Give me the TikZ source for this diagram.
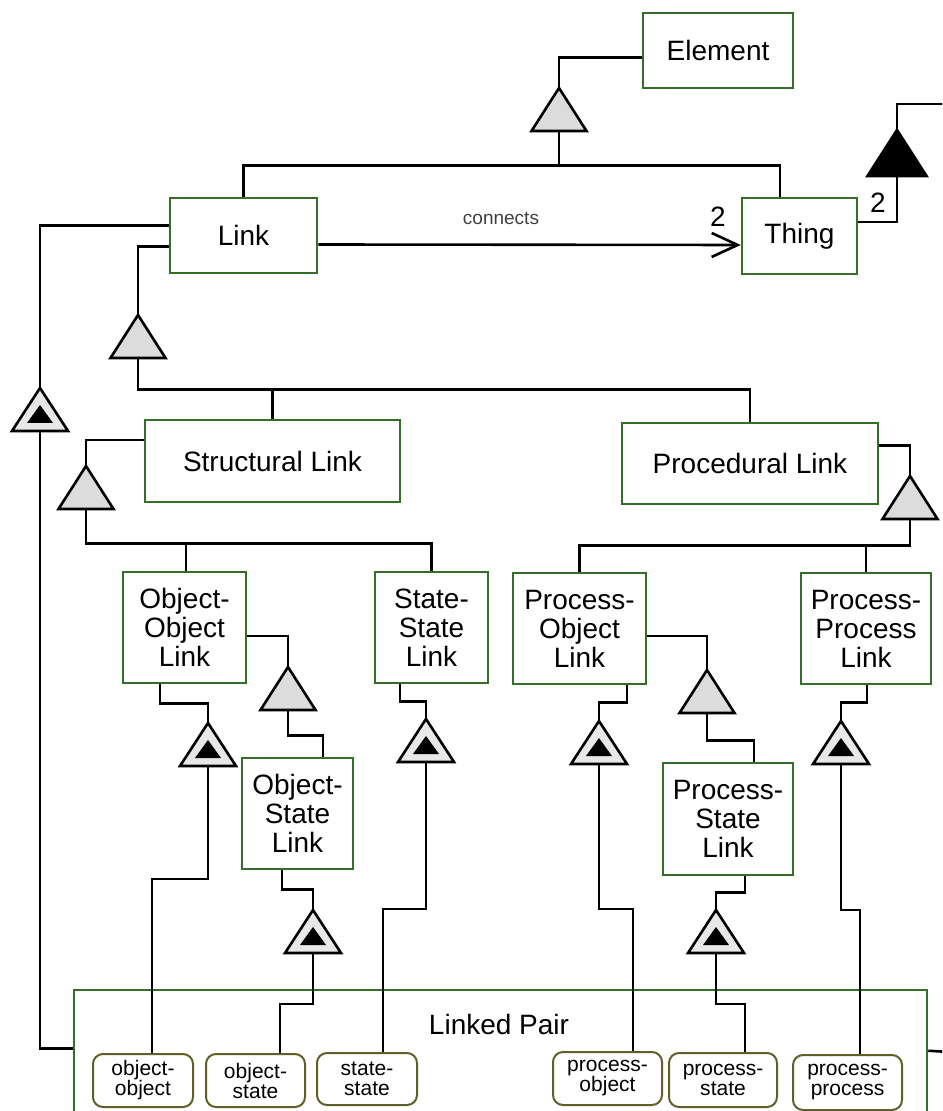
\documentclass[tikz,border=0pt]{standalone}
\usepackage{fontspec}
\setmainfont{Liberation Sans}
\usetikzlibrary{arrows.meta,calc}
\definecolor{boxgreen}{RGB}{52,110,40}
\definecolor{olive}{RGB}{95,95,40}
\definecolor{gengray}{RGB}{220,220,220}
\definecolor{exhfill}{RGB}{232,232,232}
\begin{document}
\begin{tikzpicture}[x=0.5pt,y=-0.5pt,
  conn/.style={line width=1.3pt,black},
  tri/.style={line width=1.3pt,line join=miter},
  box/.style={draw=boxgreen,line width=1.25pt,fill=white,inner sep=0pt,align=center,
     font=\fontsize{14}{14.5}\selectfont},
  small/.style={draw=olive,line width=1pt,rounded corners=5pt,fill=white,inner sep=0pt,align=center,
     font=\fontsize{10.5}{10}\selectfont},
  gentri/.pic={\draw[tri,fill=gengray] (0,0) -- (-27.5,43) -- (27.5,43) -- cycle;},
  exhtri/.pic={\draw[tri,fill=exhfill] (0,0) -- (-28,43) -- (28,43) -- cycle;
               \fill[black] (0,17) -- (-13,35) -- (13,35) -- cycle;},
  blktri/.pic={\draw[tri,fill=black] (0,0) -- (-29.5,46) -- (29.5,46) -- cycle;}
]
\useasboundingbox (0,0) rectangle (942,1111);
\clip (0,0) rectangle (942,1111);

% Linked Pair container (extends below the picture)
\node[draw=boxgreen,line width=1.25pt,minimum width=426.5pt,minimum height=80pt,inner sep=0pt] (lp) at (500.5,1070) {};
\node[font=\fontsize{14}{14}\selectfont] (lplabel) at (499,1024) {Linked Pair};

% main boxes
\node[box,minimum width=75pt,minimum height=37.5pt] (elem) at (718,50.5) {Element};
\node[box,minimum width=57.5pt,minimum height=38pt] (thing) at (799.5,236) {Thing};
\node[box,minimum width=73.5pt,minimum height=37.5pt] (link) at (243.5,235.5) {Link};
\node[box,minimum width=127.5pt,minimum height=41pt] (struct) at (272.5,461) {Structural Link};
\node[box,minimum width=128pt,minimum height=40.5pt] (proc) at (750,463.5) {Procedural Link};
\node[box,minimum width=61.5pt,minimum height=55.5pt] (oo) at (184.5,627.5) {Object-\\Object\\Link};
\node[box,minimum width=56.5pt,minimum height=55.5pt] (ss) at (431.5,627.5) {State-\\State\\Link};
\node[box,minimum width=55.5pt,minimum height=55.5pt] (os) at (297.5,813.5) {Object-\\State\\Link};
\node[box,minimum width=66.5pt,minimum height=55.5pt] (po) at (579.5,628.5) {Process-\\Object\\Link};
\node[box,minimum width=65pt,minimum height=55.5pt] (pp) at (866,628.5) {Process-\\Process\\Link};
\node[box,minimum width=65pt,minimum height=56pt] (ps) at (728,819) {Process-\\State\\Link};

% small pair boxes
\node[small,minimum width=50pt,minimum height=26.5pt] (sm1) at (143,1080.5) {object-\\object};
\node[small,minimum width=49.5pt,minimum height=26.5pt] (sm2) at (255.5,1080.5) {object-\\state};
\node[small,minimum width=50pt,minimum height=26pt] (sm3) at (367,1079) {state-\\state};
\node[small,minimum width=54.5pt,minimum height=26.5pt] (sm4) at (607.5,1078.5) {process-\\object};
\node[small,minimum width=54pt,minimum height=27pt] (sm5) at (723,1080) {process-\\state};
\node[small,minimum width=54.5pt,minimum height=27.5pt] (sm6) at (847.5,1082.5) {process-\\process};

% triangle positions (apex a, base b)
\coordinate (t1a) at (559,88);  \coordinate (t1b) at (559,131);
\coordinate (t2a) at (897,130); \coordinate (t2b) at (897,176);
\coordinate (t3a) at (40,388);  \coordinate (t3b) at (40,431);
\coordinate (t4a) at (138,315); \coordinate (t4b) at (138,358);
\coordinate (t5a) at (86,466);  \coordinate (t5b) at (86,509);
\coordinate (t6a) at (910,476); \coordinate (t6b) at (910,519);
\coordinate (t7a) at (288,667); \coordinate (t7b) at (288,710);
\coordinate (t8a) at (707,670); \coordinate (t8b) at (707,713);
\coordinate (t9a) at (208,723); \coordinate (t9b) at (208,766);
\coordinate (t10a) at (426,719); \coordinate (t10b) at (426,762);
\coordinate (t11a) at (313,910); \coordinate (t11b) at (313,953);
\coordinate (t12a) at (599,721); \coordinate (t12b) at (599,764);
\coordinate (t13a) at (716,910); \coordinate (t13b) at (716,953);
\coordinate (t14a) at (841,721); \coordinate (t14b) at (841,764);
\coordinate (e1) at (950,104);
\coordinate (e2) at (950,1052);

% connectors
\draw[conn] ($(elem.west)+(0,7)$) -| (t1a);
\draw[conn] (t1b) |- ($(thing.north)+(-19.5,-31)$) -- ($(thing.north)+(-19.5,0)$);
\draw[conn] (link.north) |- (t1b |- {$(thing.north)+(0,-31)$});

\draw[conn,-{Straight Barb[length=13pt,width=12pt]}] ($(link.east)+(0,9)$) -- ($(thing.west)+(0,9)$);
\node[font=\fontsize{9.5}{11}\selectfont,text=black!75] (conlabel) at (501,218) {connects};
\node[font=\fontsize{14}{14}\selectfont] (mult1) at (718,217) {2};

\draw[conn] ($(thing.east)+(0,-14)$) -| (t2b);
\draw[conn] (t2a) |- (e1);
\node[font=\fontsize{14}{14}\selectfont] (mult2) at (878,203) {2};

\draw[conn] ($(link.west)+(0,-10)$) -| (t3a);
\draw[conn] (t3b) |- ($(lp.north west)+(0,60)$);
\draw[conn] ($(lp.north east)+(0,62)$) -- (e2);

\draw[conn] ($(link.west)+(0,11)$) -| (t4a);
\draw[conn] (t4b) |- ($(proc.north)+(0,-32)$) -- (proc.north);
\draw[conn] (struct.north) -- ++(0,-29);

\draw[conn] ($(struct.west)+(0,-21)$) -| (t5a);
\draw[conn] (t5b) |- ($(ss.north)+(0,-27)$) -- (ss.north);
\draw[conn] ($(oo.north)+(1.5,0)$) -- ++(0,-27);

\draw[conn] ($(proc.east)+(0,-18)$) -| (t6a);
\draw[conn] (t6b) |- ($(po.north)+(0,-26)$) -- (po.north);
\draw[conn] (pp.north) -- ++(0,-26);

\draw[conn] ($(oo.east)+(0,8.5)$) -| (t7a);
\draw[conn] (t7b) |- ($(os.north)+(25.5,-21)$) -- ($(os.north)+(25.5,0)$);

\draw[conn] ($(po.east)+(0,7.5)$) -| (t8a);
\draw[conn] (t8b) |- ($(ps.north)+(26,-21)$) -- ($(ps.north)+(26,0)$);

\draw[conn] ($(oo.south)+(-24.5,0)$) -- ++(0,19) -| (t9a);
\draw[conn] (t9b) |- ($(sm1.north)+(9,-174)$) -- ($(sm1.north)+(9,0)$);

\draw[conn] ($(ss.south)+(-31.5,0)$) -- ++(0,17) -| (t10a);
\draw[conn] (t10b) |- ($(sm3.north)+(16,-143)$) -- ($(sm3.north)+(16,0)$);

\draw[conn] ($(os.south)+(-15.5,0)$) -- ++(0,19) -| (t11a);
\draw[conn] (t11b) |- ($(sm2.north)+(24.5,-49)$) -- ($(sm2.north)+(24.5,0)$);

\draw[conn] ($(po.south)+(47.5,0)$) -- ++(0,17) -| (t12a);
\draw[conn] (t12b) |- ($(sm4.north)+(25.5,-142)$) -- ($(sm4.north)+(25.5,0)$);

\draw[conn] ($(ps.south)+(17,0)$) -- ++(0,16) -| (t13a);
\draw[conn] (t13b) |- ($(sm5.north)+(22,-48)$) -- ($(sm5.north)+(22,0)$);

\draw[conn] ($(pp.south)+(1,0)$) -- ++(0,17) -| (t14a);
\draw[conn] (t14b) |- ($(sm6.north)+(12.5,-144)$) -- ($(sm6.north)+(12.5,0)$);

% triangles
\pic at (t1a) {gentri};
\pic at (t2a) {blktri};
\pic at (t3a) {exhtri};
\pic at (t4a) {gentri};
\pic at (t5a) {gentri};
\pic at (t6a) {gentri};
\pic at (t7a) {gentri};
\pic at (t8a) {gentri};
\pic at (t9a) {exhtri};
\pic at (t10a) {exhtri};
\pic at (t11a) {exhtri};
\pic at (t12a) {exhtri};
\pic at (t13a) {exhtri};
\pic at (t14a) {exhtri};
\end{tikzpicture}
\end{document}
